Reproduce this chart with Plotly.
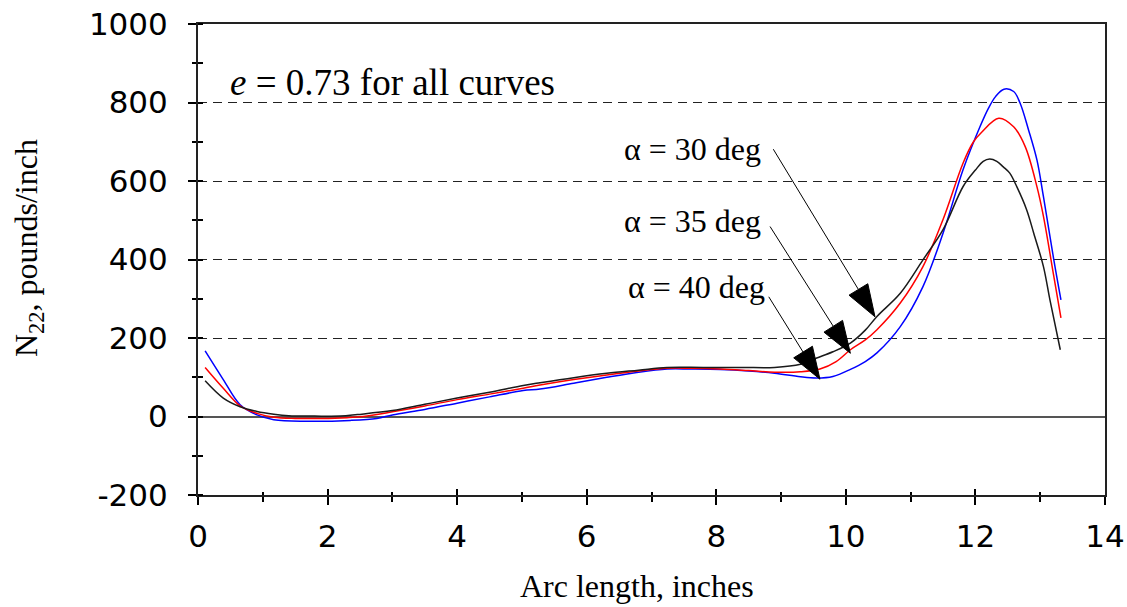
import plotly.graph_objects as go

# Membrane force N22 along the arc, e = 0.73, three cone angles
arc_30 = [0.11, 0.39, 0.65, 0.91, 1.17, 1.4, 1.8, 2.2, 2.46, 3.0, 3.5, 4.0, 4.5, 5.02, 5.28,
          5.8, 6.31, 6.8, 7.24, 7.8, 8.4, 8.9, 9.3, 9.55, 9.8, 10.07, 10.3, 10.48, 10.84,
          11.19, 11.5, 11.81, 12.0, 12.12, 12.22, 12.33, 12.43, 12.53, 12.64, 12.79, 12.9,
          13.05, 13.15, 13.31]
n22_30 = [91, 47, 25, 13, 6, 2, 1, 1, 5, 15, 31, 47, 62, 79, 86,
          99, 110, 118, 125, 125, 125, 125, 133, 149, 165, 187, 220, 255, 314,
          399, 476, 586, 628, 650, 656, 650, 636, 620, 585, 527, 467,
          382, 297, 170]

arc_35 = [0.11, 0.39, 0.65, 0.91, 1.17, 1.5, 1.9, 2.3, 2.55, 3.0, 3.5, 4.0, 4.5, 5.02, 5.28,
          5.8, 6.31, 6.8, 7.24, 7.6, 8.06, 8.5, 8.9, 9.3, 9.6, 9.85, 10.07, 10.3, 10.48,
          10.84, 11.19, 11.5, 11.81, 11.97, 12.1, 12.36, 12.59, 12.77, 12.95, 13.05, 13.21,
          13.32]
n22_35 = [125, 72, 27, 8, -2, -5, -5, -3, 0, 12, 27, 43, 57, 72, 80,
          94, 106, 116, 123, 123, 121, 117, 113, 114, 121, 140, 170, 195, 221,
          289, 382, 502, 646, 700, 725, 760, 738, 687, 585, 510, 357,
          251]

arc_40 = [0.11, 0.39, 0.65, 0.91, 1.17, 1.65, 2.35, 2.76, 3.0, 3.5, 4.0, 4.5, 5.02, 5.28,
          5.8, 6.31, 6.8, 7.24, 7.6, 8.06, 8.5, 8.9, 9.3, 9.55, 9.8, 10.07, 10.3, 10.48,
          10.84, 11.19, 11.5, 11.81, 12.07, 12.2, 12.31, 12.44, 12.59, 12.69, 12.82, 12.95,
          13.05, 13.21, 13.32]
n22_40 = [167, 94, 30, 4, -8, -12, -10, -5, 4, 18, 34, 50, 66, 70,
          85, 100, 113, 121, 121, 120, 116, 110, 101, 98, 102, 120, 140, 162,
          229, 331, 467, 629, 738, 785, 815, 834, 828, 798, 730, 653,
          560, 399, 297]

curve_labels = ["α = 30 deg", "α = 35 deg", "α = 40 deg"]
label_x = [8.72, 8.72, 8.78]
label_y = [682, 498, 330]
arrow_tail_x = [8.88, 8.83, 8.81]
arrow_tail_y = [681, 484, 305]
arrow_tip_x = [10.45, 10.07, 9.60]
arrow_tip_y = [254, 161, 95]

x_ticks = [0, 2, 4, 6, 8, 10, 12, 14]
y_ticks = [-200, 0, 200, 400, 600, 800, 1000]
y_tick_text = ["-200", "0", "200", "400", "600", "800", "1000"]

X_RANGE = [0, 14]
Y_RANGE = [-200, 1000]
W, H = 1127, 607
M_L, M_R, M_T, M_B = 198, 22, 24, 112
PLOT_W = W - M_L - M_R
PLOT_H = H - M_T - M_B
sx = PLOT_W / (X_RANGE[1] - X_RANGE[0])
sy = PLOT_H / (Y_RANGE[1] - Y_RANGE[0])

SERIF = "Liberation Serif, Times New Roman, serif"
SANS = "DejaVu Sans, Arial, sans-serif"

fig = go.Figure()
for xs, ys, col in [(arc_40, n22_40, "#0000ff"), (arc_35, n22_35, "#ff0000"),
                    (arc_30, n22_30, "#1a1a1a")]:
    fig.add_trace(go.Scatter(x=xs, y=ys, mode="lines", line=dict(color=col, width=1.5),
                             line_shape="spline", showlegend=False, hoverinfo="skip"))

# Invisible trace on the overlay axes so their ticks get drawn
fig.add_trace(go.Scatter(x=[X_RANGE[0]], y=[Y_RANGE[0]], xaxis="x2", yaxis="y2",
                         mode="markers", marker=dict(opacity=0), showlegend=False,
                         hoverinfo="skip"))

shapes = []
annotations = []
HEAD_LEN, HEAD_HALF = 32, 11
for i, txt in enumerate(curve_labels):
    annotations.append(dict(x=label_x[i], y=label_y[i], xref="x", yref="y", text=txt,
                            showarrow=False, xanchor="right", yanchor="middle",
                            font=dict(family=SERIF, size=32, color="black")))
    # leader line plus a solid triangular head, built in pixel space
    dx = (arrow_tip_x[i] - arrow_tail_x[i]) * sx
    dy = (arrow_tip_y[i] - arrow_tail_y[i]) * sy
    length = (dx ** 2 + dy ** 2) ** 0.5
    ux, uy = dx / length, dy / length
    bx = arrow_tip_x[i] - ux * HEAD_LEN / sx
    by = arrow_tip_y[i] - uy * HEAD_LEN / sy
    c1x, c1y = bx - uy * HEAD_HALF / sx, by + ux * HEAD_HALF / sy
    c2x, c2y = bx + uy * HEAD_HALF / sx, by - ux * HEAD_HALF / sy
    shapes.append(dict(type="line", xref="x", yref="y", x0=arrow_tail_x[i], y0=arrow_tail_y[i],
                       x1=bx, y1=by, line=dict(color="black", width=1)))
    shapes.append(dict(type="path", xref="x", yref="y",
                       path=f"M {arrow_tip_x[i]},{arrow_tip_y[i]} L {c1x},{c1y} L {c2x},{c2y} Z",
                       fillcolor="black", line=dict(color="black", width=1)))

annotations.append(dict(x=0.463, y=850, xref="x", yref="y",
                        text="<i>e</i> = 0.73 for all curves", showarrow=False,
                        xanchor="left", yanchor="middle",
                        font=dict(family=SERIF, size=37, color="black")))

# Axis titles placed as paper-anchored text
annotations.append(dict(x=(637 - M_L) / PLOT_W, y=-(586 - (H - M_B)) / PLOT_H,
                        xref="paper", yref="paper", text="Arc length, inches",
                        showarrow=False, xanchor="center", yanchor="middle",
                        font=dict(family=SERIF, size=32, color="black")))
annotations.append(dict(x=(28 - M_L) / PLOT_W, y=((H - M_B) - 248) / PLOT_H,
                        xref="paper", yref="paper", text="N<sub>22</sub>, pounds/inch",
                        textangle=-90, showarrow=False, xanchor="center", yanchor="middle",
                        font=dict(family=SERIF, size=32, color="black")))

fig.update_layout(
    width=W, height=H,
    margin=dict(l=M_L, r=M_R, t=M_T, b=M_B, autoexpand=False),
    paper_bgcolor="white", plot_bgcolor="white",
    shapes=shapes, annotations=annotations,
    xaxis=dict(range=X_RANGE, tickvals=x_ticks, ticks="outside", ticklen=8, tickwidth=1.5,
               tickcolor="black", showgrid=False, zeroline=False,
               showline=True, linecolor="#222222", linewidth=2, mirror=True,
               minor=dict(dtick=1, tick0=0, ticks="outside", ticklen=5, tickwidth=1.5,
                          tickcolor="black", showgrid=False),
               tickfont=dict(family=SANS, size=31, color="black"), ticklabelstandoff=5),
    yaxis=dict(range=Y_RANGE, tickvals=y_ticks, ticktext=y_tick_text, ticks="outside",
               ticklen=8, tickwidth=1.5, tickcolor="black",
               showgrid=True, gridcolor="#222222", gridwidth=1,
               griddash="9px,6px", zeroline=True, zerolinecolor="#555555", zerolinewidth=2,
               showline=True, linecolor="#222222", linewidth=2, mirror=True,
               minor=dict(dtick=100, tick0=0, ticks="outside", ticklen=4, tickwidth=1.5,
                          tickcolor="black", showgrid=False),
               tickfont=dict(family=SANS, size=31, color="black"), ticklabelstandoff=14),
    xaxis2=dict(range=X_RANGE, overlaying="x", side="bottom", tickvals=x_ticks,
                ticks="inside", ticklen=6, tickwidth=1.5, tickcolor="black",
                showticklabels=False, showgrid=False, zeroline=False, showline=False,
                minor=dict(dtick=1, tick0=0, ticks="inside", ticklen=3, tickwidth=1.5,
                           tickcolor="black", showgrid=False)),
    yaxis2=dict(range=Y_RANGE, overlaying="y", side="left", tickvals=[],
                ticks="", showticklabels=False, showgrid=False, zeroline=False,
                showline=False,
                minor=dict(dtick=100, tick0=-100, ticks="inside", ticklen=5, tickwidth=1.5,
                           tickcolor="black", showgrid=False)),
)

fig.write_html("out.html")
